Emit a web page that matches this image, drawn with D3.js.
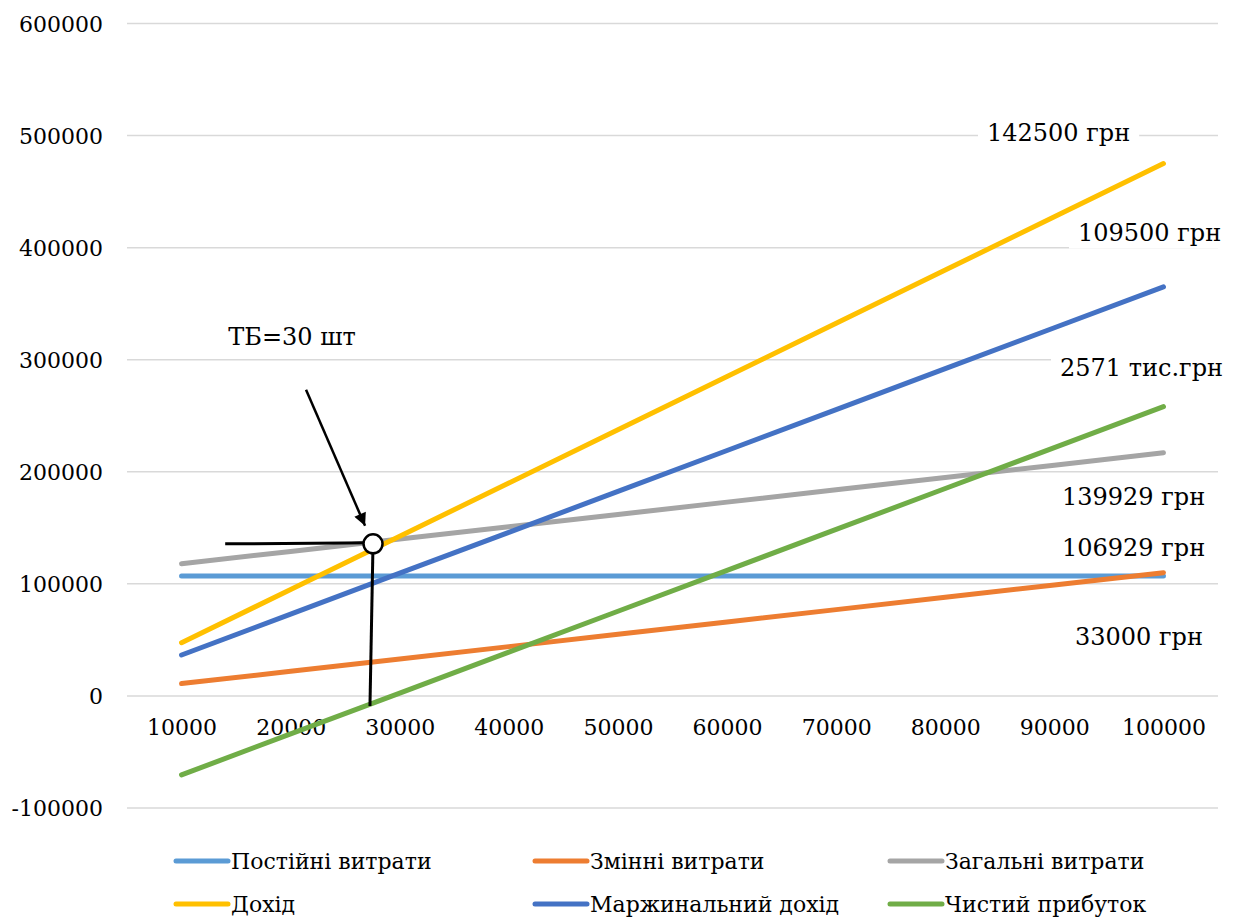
<!DOCTYPE html>
<html>
<head>
<meta charset="utf-8">
<script src="https://cdn.jsdelivr.net/npm/d3@7"></script>
<style>
  html, body { margin: 0; padding: 0; background: #fff; }
  svg { display: block; }
</style>
</head>
<body>
<svg id="chart" width="1238" height="920"></svg>
<script>
// Обсяг виробництва, шт
const volumes = [10000, 20000, 30000, 40000, 50000, 60000, 70000, 80000, 90000, 100000];

// Серії, грн
const fixedCosts    = [106929, 106929, 106929, 106929, 106929, 106929, 106929, 106929, 106929, 106929];
const variableCosts = [11000, 22000, 33000, 44000, 55000, 66000, 77000, 88000, 99000, 110000];
const totalCosts    = [117929, 128929, 139929, 150929, 161929, 172929, 183929, 194929, 205929, 216929];
const revenue       = [47500, 95000, 142500, 190000, 237500, 285000, 332500, 380000, 427500, 475000];
const marginIncome  = [36500, 73000, 109500, 146000, 182500, 219000, 255500, 292000, 328500, 365000];
const netProfit     = [-70429, -33929, 2571, 39071, 75571, 112071, 148571, 185071, 221571, 258071];

const seriesNames = ["Постійні витрати", "Змінні витрати", "Загальні витрати",
                     "Дохід", "Маржинальний дохід", "Чистий прибуток"];
const seriesColors = ["#5B9BD5", "#ED7D31", "#A5A5A5", "#FFC000", "#4472C4", "#70AD47"];
const seriesValues = [fixedCosts, variableCosts, totalCosts, revenue, marginIncome, netProfit];

const yTicks = [-100000, 0, 100000, 200000, 300000, 400000, 500000, 600000];

// Підписи значень праворуч (текст і рівень по осі Y)
const valueLabels = ["142500 грн", "109500 грн", "2571 тис.грн", "139929 грн", "106929 грн", "33000 грн"];
const valueLabelLevels = [503000, 414000, 293000, 178000, 133000, 53000];
const valueLabelX = [987, 1078, 1060, 1062, 1062, 1075];

// Точка беззбитковості (обсяг, грн)
const breakEvenText = "ТБ=30 шт";
const breakEvenPoint = [27550, 135700];

const FONT = "'DejaVu Serif', serif";
const AXIS_SIZE = 22;
const LABEL_SIZE = 24;

const svg = d3.select("#chart");

const x = d3.scalePoint().domain(volumes).range([127, 1218]).padding(0.5);
const xq = d3.scaleLinear().domain([volumes[0], volumes[volumes.length - 1]])
  .range([x(volumes[0]), x(volumes[volumes.length - 1])]);
const y = d3.scaleLinear().domain([-100000, 600000]).range([808, 23.5]);

// Сітка
svg.append("g")
  .selectAll("line")
  .data(yTicks)
  .join("line")
  .attr("x1", 127).attr("x2", 1218)
  .attr("y1", d => y(d)).attr("y2", d => y(d))
  .attr("stroke", "#D9D9D9")
  .attr("stroke-width", 1.5);

// Вісь Y
const yAxis = svg.append("g")
  .attr("transform", "translate(103,0)")
  .call(d3.axisLeft(y).tickValues(yTicks).tickSize(0).tickPadding(0).tickFormat(d => String(d)));
yAxis.attr("font-family", FONT).attr("font-size", AXIS_SIZE);
yAxis.select(".domain").remove();
yAxis.selectAll("text")
  .attr("fill", "#000")
  .attr("dy", "0.36em");

// Вісь X (категорії під нулем)
const xAxis = svg.append("g")
  .attr("transform", `translate(0,${y(0)})`)
  .call(d3.axisBottom(x).tickSize(0).tickPadding(0).tickFormat(d => String(d)));
xAxis.attr("font-family", FONT).attr("font-size", AXIS_SIZE);
xAxis.select(".domain").remove();
xAxis.selectAll("text")
  .attr("fill", "#000")
  .attr("y", 39)
  .attr("dy", 0);

// Підписи значень з білими підкладками
const labelsG = svg.append("g").attr("font-family", FONT).attr("font-size", LABEL_SIZE);
valueLabels.forEach((t, i) => {
  const txt = labelsG.append("text")
    .attr("x", valueLabelX[i])
    .attr("y", y(valueLabelLevels[i]))
    .attr("dy", "0.36em")
    .attr("fill", "#000")
    .text(t);
  const bb = txt.node().getBBox();
  labelsG.insert("rect", "text")
    .attr("x", bb.x - 9).attr("y", bb.y - 2)
    .attr("width", bb.width + 18).attr("height", bb.height + 4)
    .attr("fill", "#fff");
});

// Лінії серій
const line = d3.line()
  .x((d, i) => x(volumes[i]))
  .y(d => y(d));

svg.append("g")
  .selectAll("path")
  .data(seriesValues)
  .join("path")
  .attr("d", d => line(d))
  .attr("fill", "none")
  .attr("stroke", (d, i) => seriesColors[i])
  .attr("stroke-width", 5)
  .attr("stroke-linecap", "round")
  .attr("stroke-linejoin", "round");

// Позначка точки беззбитковості
const bx = xq(breakEvenPoint[0]);
const by = y(breakEvenPoint[1]);
const ann = svg.append("g").attr("font-family", FONT).attr("font-size", LABEL_SIZE);

svg.append("defs").append("marker")
  .attr("id", "arrowHead")
  .attr("viewBox", "0 0 10 10")
  .attr("refX", 10).attr("refY", 5)
  .attr("markerWidth", 5.5).attr("markerHeight", 5)
  .attr("markerUnits", "strokeWidth")
  .attr("orient", "auto")
  .append("path")
  .attr("d", "M0,0 L10,5 L0,10 Z")
  .attr("fill", "#000");

// Горизонтальна та вертикальна лінії до точки
ann.append("line")
  .attr("x1", xq(14000)).attr("y1", by)
  .attr("x2", bx).attr("y2", by - 1)
  .attr("stroke", "#000").attr("stroke-width", 3);
ann.append("line")
  .attr("x1", bx).attr("y1", by)
  .attr("x2", xq(27270)).attr("y2", y(-9000))
  .attr("stroke", "#000").attr("stroke-width", 3);

// Стрілка
ann.append("line")
  .attr("x1", xq(21410)).attr("y1", y(273200))
  .attr("x2", xq(26820)).attr("y2", y(151800))
  .attr("stroke", "#000").attr("stroke-width", 2.5)
  .attr("marker-end", "url(#arrowHead)");

ann.append("circle")
  .attr("cx", bx).attr("cy", by)
  .attr("r", 9.5)
  .attr("fill", "#fff")
  .attr("stroke", "#000")
  .attr("stroke-width", 2.5);

// Підпис ТБ з білою підкладкою
const tb = ann.append("text")
  .attr("x", xq(14280))
  .attr("y", 345)
  .attr("fill", "#000")
  .text(breakEvenText);
const tbb = tb.node().getBBox();
ann.insert("rect", "text")
  .attr("x", tbb.x - 5).attr("y", tbb.y - 2)
  .attr("width", tbb.width + 12).attr("height", tbb.height + 6)
  .attr("fill", "#fff");

// Легенда
const legendCols = [176, 535, 890];
const legendRows = [861, 904];
const legend = svg.append("g").attr("font-family", FONT).attr("font-size", AXIS_SIZE);
seriesNames.forEach((name, i) => {
  const cx = legendCols[i % 3];
  const cy = legendRows[Math.floor(i / 3)];
  legend.append("line")
    .attr("x1", cx).attr("x2", cx + 52)
    .attr("y1", cy).attr("y2", cy)
    .attr("stroke", seriesColors[i])
    .attr("stroke-width", 5)
    .attr("stroke-linecap", "round");
  legend.append("text")
    .attr("x", cx + 55)
    .attr("y", cy)
    .attr("dy", "0.36em")
    .attr("fill", "#000")
    .text(name);
});
</script>
</body>
</html>
